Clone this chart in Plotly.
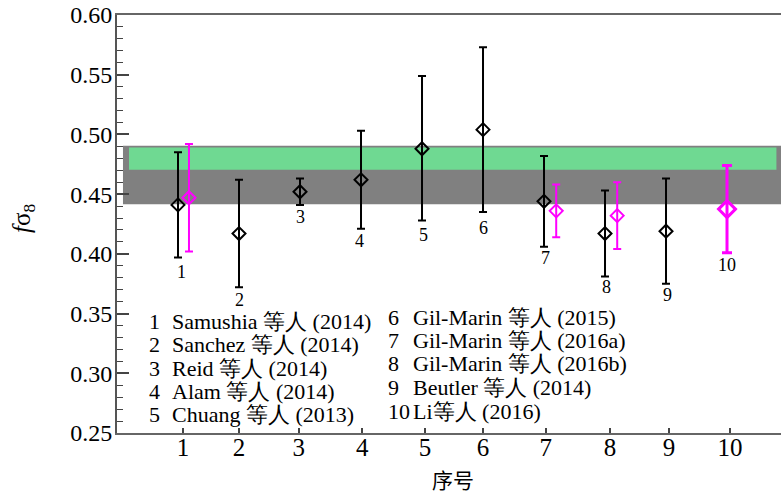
import plotly.graph_objects as go

# ---------------- data ----------------
black_x = [1, 2, 3, 4, 5, 6, 7, 8, 9]
black_y = [0.441, 0.417, 0.452, 0.462, 0.488, 0.504, 0.444, 0.417, 0.419]
black_hi = [0.485, 0.462, 0.463, 0.503, 0.549, 0.573, 0.482, 0.453, 0.463]
black_lo = [0.397, 0.372, 0.441, 0.421, 0.428, 0.435, 0.406, 0.381, 0.375]

mag_x = [1.18, 7.2, 8.2, 10.0]
mag_y = [0.447, 0.436, 0.432, 0.4375]
mag_hi = [0.492, 0.458, 0.460, 0.474]
mag_lo = [0.402, 0.414, 0.404, 0.401]

band_grey = [0.4415, 0.4905]
band_green = [0.4705, 0.489]

x_tick_pos = [1.08, 2.0, 2.98, 4.02, 5.05, 6.0, 7.03, 8.08, 9.05, 10.05]
x_tick_text = ["1", "2", "3", "4", "5", "6", "7", "8", "9", "10"]
y_ticks = [0.25, 0.30, 0.35, 0.40, 0.45, 0.50, 0.55, 0.60]

point_labels = ["1", "2", "3", "4", "5", "6", "7", "8", "9", "10"]
point_label_x = [1.05, 2.0, 3.0, 3.98, 5.02, 6.0, 7.02, 8.02, 9.03, 10.0]
point_label_y = [0.385, 0.361, 0.431, 0.411, 0.416, 0.422, 0.3965, 0.372, 0.3655, 0.3906]

legend_nums = ["1", "2", "3", "4", "5", "6", "7", "8", "9", "10"]
legend_names = ["Samushia 等人 (2014)", "Sanchez 等人 (2014)", "Reid 等人 (2014)",
                "Alam 等人 (2014)", "Chuang 等人 (2013)",
                "Gil-Marin 等人 (2015)", "Gil-Marin 等人 (2016a)", "Gil-Marin 等人 (2016b)",
                "Beutler 等人 (2014)", "Li等人 (2016)"]

x_title = "序号"
y_title = "<i>f</i>σ<sub>8</sub>"

# --------------- figure ---------------
W, H = 781, 494
ML, MR, MT, MB = 117, 0, 15, 61
XR = [0, 10.885]
YR = [0.25, 0.60]

SERIF = "Liberation Serif"
MAG = "#FF00FF"

def err(y, hi, lo):
    return [h - v for v, h in zip(y, hi)], [v - l for v, l in zip(y, lo)]

bu, bd = err(black_y, black_hi, black_lo)
mu, md = err(mag_y, mag_hi, mag_lo)

fig = go.Figure()
fig.add_trace(go.Scatter(
    x=black_x, y=black_y, mode="markers",
    marker=dict(symbol="diamond-open", size=10, color="black", line=dict(width=2, color="black")),
    error_y=dict(type="data", symmetric=False, array=bu, arrayminus=bd,
                 color="black", thickness=2, width=4),
    showlegend=False))
fig.add_trace(go.Scatter(
    x=mag_x[:3], y=mag_y[:3], mode="markers",
    marker=dict(symbol="diamond-open", size=10, color=MAG, line=dict(width=2, color=MAG)),
    error_y=dict(type="data", symmetric=False, array=mu[:3], arrayminus=md[:3],
                 color=MAG, thickness=2, width=4),
    showlegend=False))
fig.add_trace(go.Scatter(
    x=mag_x[3:], y=mag_y[3:], mode="markers",
    marker=dict(symbol="diamond-open", size=13, color=MAG, line=dict(width=3, color=MAG)),
    error_y=dict(type="data", symmetric=False, array=mu[3:], arrayminus=md[3:],
                 color=MAG, thickness=3, width=5),
    showlegend=False))

# bands
fig.add_shape(type="rect", xref="x", yref="y", x0=0.098, x1=XR[1], y0=band_grey[0], y1=band_grey[1],
              fillcolor="#808080", line=dict(width=0), layer="below")
fig.add_shape(type="rect", xref="x", yref="y", x0=0.197, x1=10.81, y0=band_green[0], y1=band_green[1],
              fillcolor="#6FD992", line=dict(width=0), layer="below")

annotations = []
for t, xx, yy in zip(point_labels, point_label_x, point_label_y):
    annotations.append(dict(x=xx, y=yy, xref="x", yref="y", text=t, showarrow=False,
                            font=dict(family=SERIF, size=18, color="black"),
                            xanchor="center", yanchor="middle"))

pw, ph = W - ML - MR, H - MT - MB
def px_x(p):
    return (p - ML) / pw
def px_y(p):
    return (H - MB - p) / ph

LF = 22
row_y1 = [321, 344, 368, 391, 414]
row_y2 = [317, 340, 363, 387, 411]
for i in range(5):
    annotations.append(dict(x=px_x(147), y=px_y(row_y1[i]), xref="paper", yref="paper",
                            text=legend_nums[i], showarrow=False, xanchor="left", yanchor="middle",
                            font=dict(family=SERIF, size=LF, color="black")))
    annotations.append(dict(x=px_x(170), y=px_y(row_y1[i]), xref="paper", yref="paper",
                            text=legend_names[i], showarrow=False, xanchor="left", yanchor="middle",
                            font=dict(family=SERIF, size=LF, color="black")))
for i in range(5):
    annotations.append(dict(x=px_x(386), y=px_y(row_y2[i]), xref="paper", yref="paper",
                            text=legend_nums[5 + i], showarrow=False, xanchor="left", yanchor="middle",
                            font=dict(family=SERIF, size=LF, color="black")))
    annotations.append(dict(x=px_x(411), y=px_y(row_y2[i]), xref="paper", yref="paper",
                            text=legend_names[5 + i], showarrow=False, xanchor="left", yanchor="middle",
                            font=dict(family=SERIF, size=LF, color="black")))

annotations.append(dict(x=px_x(23), y=px_y(218), xref="paper", yref="paper", text=y_title,
                        textangle=-90, showarrow=False, xanchor="center", yanchor="middle",
                        font=dict(family=SERIF, size=25, color="black")))
annotations.append(dict(x=px_x(453), y=px_y(479), xref="paper", yref="paper", text=x_title,
                        showarrow=False, xanchor="center", yanchor="middle",
                        font=dict(family="Noto Sans CJK SC", size=21, color="black")))

fig.update_layout(
    width=W, height=H,
    margin=dict(l=ML, r=MR, t=MT, b=MB, pad=0),
    paper_bgcolor="white", plot_bgcolor="white",
    annotations=annotations,
    xaxis=dict(range=XR, showgrid=False, zeroline=False,
               showline=True, linecolor="#666", linewidth=2, mirror=True,
               tickvals=x_tick_pos, ticktext=x_tick_text,
               ticks="inside", ticklen=5, tickwidth=1.5, tickcolor="#444",
               ticklabelstandoff=-9,
               tickfont=dict(family=SERIF, size=25, color="black")),
    yaxis=dict(range=YR, showgrid=False, zeroline=False,
               showline=True, linecolor="#555", linewidth=2,
               tickvals=y_ticks, ticktext=[f"{v:.2f}" for v in y_ticks],
               ticks="inside", ticklen=12, tickwidth=1.5, tickcolor="#444",
               ticklabelstandoff=-2,
               minor=dict(ticks="inside", ticklen=6, tickwidth=1.2, tickcolor="#444", dtick=0.01,
                          showgrid=False),
               tickfont=dict(family=SERIF, size=24, color="black")),
    yaxis2=dict(range=YR, overlaying="y", side="right", showgrid=False, zeroline=False,
                showline=False, showticklabels=False,
                tickvals=[v for v in y_ticks if abs(v - 0.45) > 1e-9],
                ticks="inside", ticklen=6, tickwidth=1.5, tickcolor="#444"),
)

fig.write_html("out.html", config={"displayModeBar": False},
               post_script="document.body.style.margin='0';")
